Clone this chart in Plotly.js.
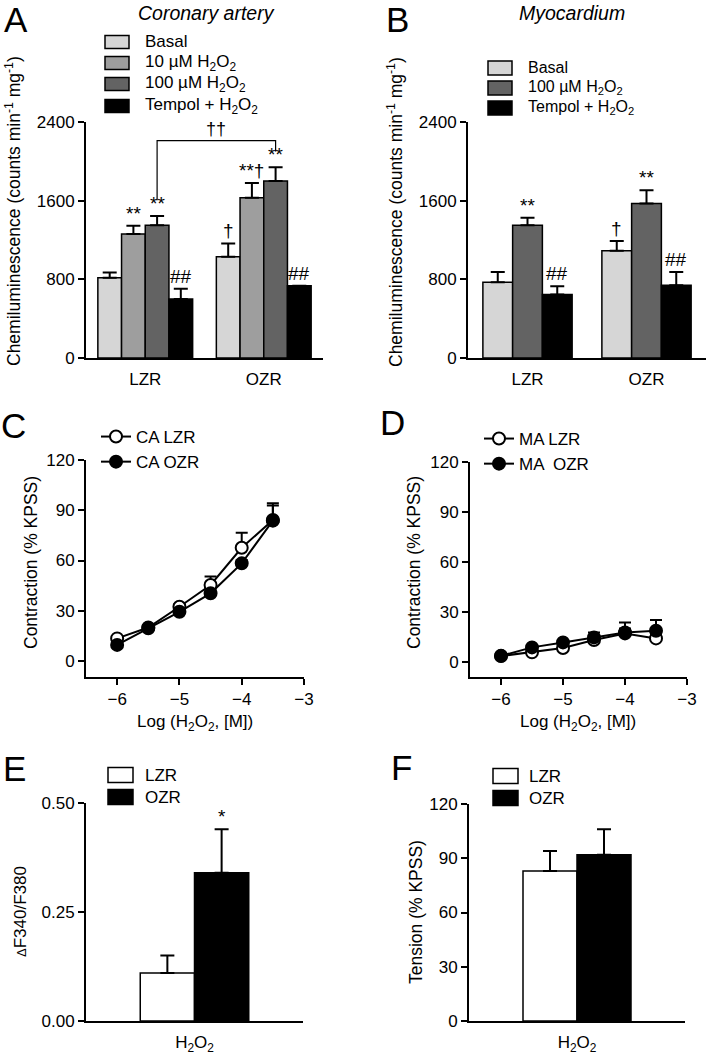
<!DOCTYPE html>
<html>
<head>
<meta charset="utf-8">
<script src="https://cdn.plot.ly/plotly-3.0.1.min.js"></script>
<style>
  body { margin: 0; background: #fff; }
  #fig { width: 709px; height: 1057px; }
</style>
</head>
<body>
<div id="fig"></div>
<script>
// panel A - coronary artery chemiluminescence
var groups = ['LZR', 'OZR'];
var namesA = ['Basal', '10 µM H<sub>2</sub>O<sub>2</sub>', '100 µM H<sub>2</sub>O<sub>2</sub>', 'Tempol + H<sub>2</sub>O<sub>2</sub>'];
var colorsA = ['#d6d6d6', '#9e9e9e', '#636363', '#000000'];
var valsA = [[815, 1030], [1260, 1630], [1350, 1800], [600, 735]];
var errA = [[55, 135], [85, 150], [95, 140], [105, 0]];
var sigA = [['', '†'], ['**', '**†'], ['**', '**'], ['##', '##']];

// panel B - myocardium
var namesB = ['Basal', '100 µM H<sub>2</sub>O<sub>2</sub>', 'Tempol + H<sub>2</sub>O<sub>2</sub>'];
var colorsB = ['#d6d6d6', '#636363', '#000000'];
var valsB = [[770, 1090], [1350, 1570], [645, 740]];
var errB = [[105, 100], [75, 135], [85, 135]];
var sigB = [['', '†'], ['**', '**'], ['##', '##']];

// panels C, D - concentration response
var logH2O2 = [-6, -5.5, -5, -4.5, -4, -3.5];
var caLZR = [13.5, 20, 32.4, 45.4, 67.6, 84.2];
var caLZRerr = [1, 1, 1.5, 5, 9, 10];
var caOZR = [9.6, 19.5, 29.4, 40.4, 58.3, 83.8];
var caOZRerr = [1, 1, 1, 2, 2, 9];
var maLZR = [3.4, 5.6, 8.2, 13, 17, 14];
var maLZRerr = [1, 1, 1, 2, 3, 2];
var maOZR = [3.5, 8.6, 11.6, 14.6, 17.6, 18.6];
var maOZRerr = [1, 1, 1, 3, 6, 6.5];

// panels E, F
var ratNames = ['LZR', 'OZR'];
var ratColors = ['#ffffff', '#000000'];
var catEF = ['H<sub>2</sub>O<sub>2</sub>'];
var valsE = [0.11, 0.34];
var errE = [0.04, 0.10];
var sigE = ['', '*'];
var valsF = [83, 92];
var errF = [11, 14];

var W = 709, H = 1057;
var FONT = 'Liberation Sans, Arial, sans-serif';
var FS = 17;
function px(x) { return x / W; }
function py(y) { return 1 - y / H; }
function dx(a, b) { return [a / W, b / W]; }
function dy(top, bot) { return [1 - bot / H, 1 - top / H]; }

var data = [];
var annotations = [];
var shapes = [];

// grouped bars via width/offset so each panel can have its own gap
function addBars(names, colors, vals, errs, sig, cats, xa, ya, frac) {
    var n = names.length, w = frac / n;
    for (var i = 0; i < n; i++) {
        var off = -frac / 2 + i * w;
        data.push({
            type: 'bar', x: cats, y: vals[i], width: w, offset: off,
            xaxis: xa, yaxis: ya, name: names[i], showlegend: false,
            marker: { color: colors[i], line: { color: '#000', width: 1.5 } },
            error_y: { type: 'data', symmetric: false, array: errs[i], arrayminus: cats.map(function () { return 0; }),
                color: '#000', thickness: 2, width: 7 }
        });
        if (!sig) continue;
        for (var j = 0; j < cats.length; j++) {
            if (!sig[i][j]) continue;
            annotations.push({
                xref: xa, yref: ya, x: j + off + w / 2, y: vals[i][j] + errs[i][j],
                text: sig[i][j], showarrow: false, yanchor: 'bottom', yshift: 0,
                font: { family: FONT, size: 19, color: '#000' }
            });
        }
    }
}

function addKeys(names, colors, x0, rows, bw, bh, textX, fs) {
    for (var i = 0; i < names.length; i++) {
        shapes.push({ type: 'rect', xref: 'paper', yref: 'paper',
            x0: px(x0), x1: px(x0 + bw), y0: py(rows[i] + bh / 2), y1: py(rows[i] - bh / 2),
            fillcolor: colors[i], line: { color: '#000', width: 1.5 } });
        annotations.push({ xref: 'paper', yref: 'paper', x: px(textX), y: py(rows[i]),
            xanchor: 'left', yanchor: 'middle', text: names[i], showarrow: false,
            font: { family: FONT, size: fs || FS, color: '#000' } });
    }
}

addBars(namesA, colorsA, valsA, errA, sigA, groups, 'x', 'y', 0.8);
addBars(namesB, colorsB, valsB, errB, sigB, groups, 'x2', 'y2', 0.75);
addBars(ratNames, ratColors, valsE.map(function (v) { return [v]; }), errE.map(function (v) { return [v]; }),
    sigE.map(function (s) { return [s]; }), catEF, 'x5', 'y5', 0.5);
addBars(ratNames, ratColors, valsF.map(function (v) { return [v]; }), errF.map(function (v) { return [v]; }),
    null, catEF, 'x6', 'y6', 0.5);

function curve(y, err, name, fill, xa, ya, leg) {
    data.push({
        type: 'scatter', mode: 'lines+markers', x: logH2O2, y: y, name: name,
        xaxis: xa, yaxis: ya, legend: leg, cliponaxis: false,
        line: { color: '#000', width: 2 },
        marker: { symbol: 'circle', size: 12, color: fill, line: { color: '#000', width: 2 } },
        error_y: { type: 'data', symmetric: false, array: err, arrayminus: err.map(function () { return 0; }),
            color: '#000', thickness: 2, width: 6 }
    });
}
curve(caLZR, caLZRerr, 'CA LZR', '#fff', 'x3', 'y3', 'legend');
curve(caOZR, caOZRerr, 'CA OZR', '#000', 'x3', 'y3', 'legend');
curve(maLZR, maLZRerr, 'MA LZR', '#fff', 'x4', 'y4', 'legend2');
curve(maOZR, maOZRerr, 'MA  OZR', '#000', 'x4', 'y4', 'legend2');

addKeys(namesA, colorsA, 105, [42, 63, 84, 106], 24, 13, 143);
addKeys(namesB, colorsB, 488, [68, 88, 108], 24, 14, 526, 16);
addKeys(ratNames, ratColors, 108, [775, 797], 25, 15, 143);
addKeys(ratNames, ratColors, 493, [776, 798], 25, 15, 527);

// bracket between 100 µM bars in A
var wA = 0.8 / 4, cL = -0.4 + 2.5 * wA, cR = 1 + cL;
var brTop = 2210, brGap = 160;
shapes.push({ type: 'path', xref: 'x', yref: 'y',
    path: 'M' + cL + ',' + (valsA[2][0] + errA[2][0] + brGap) + ' L' + cL + ',' + brTop +
        ' L' + cR + ',' + brTop + ' L' + cR + ',' + (valsA[2][1] + errA[2][1] + brGap),
    line: { color: '#000', width: 1.2 } });
annotations.push({ xref: 'x', yref: 'y', x: (cL + cR) / 2, y: brTop, yanchor: 'bottom', text: '††',
    showarrow: false, font: { family: FONT, size: 18, color: '#000' } });

function lab(x, y, text, size, angle) {
    annotations.push({ xref: 'paper', yref: 'paper', x: px(x), y: py(y), text: text, showarrow: false,
        xanchor: 'center', yanchor: 'middle', textangle: angle || 0,
        font: { family: FONT, size: size, color: '#000' } });
}
lab(16, 19, 'A', 35);
lab(397, 19, 'B', 35);
lab(13, 425, 'C', 35);
lab(392, 423, 'D', 35);
lab(15, 768, 'E', 35);
lab(401, 767, 'F', 35);
lab(206, 13, '<i>Coronary artery</i>', 19.5);
lab(572, 13, '<i>Myocardium</i>', 19.5);
lab(13, 211, 'Chemiluminescence (counts min<sup>-1</sup> mg<sup>-1</sup>)', 17.5, -90);
lab(395, 212, 'Chemiluminescence (counts min<sup>-1</sup> mg<sup>-1</sup>)', 17.5, -90);
lab(31, 563, 'Contraction (% KPSS)', 17.5, -90);
lab(414, 563, 'Contraction (% KPSS)', 17.5, -90);
lab(20, 912, '<span style="font-size:13px">Δ</span>F340/F380', 17, -90);
lab(416, 912, 'Tension (% KPSS)', 17.5, -90);
lab(195, 723, 'Log (H<sub>2</sub>O<sub>2</sub>, [M])', FS);
lab(578, 723, 'Log (H<sub>2</sub>O<sub>2</sub>, [M])', FS);

function yax(dom, range, vals, txt) {
    return { domain: dom, range: range, tickvals: vals, ticktext: txt, ticks: 'outside', ticklen: 6, tickwidth: 2,
        tickcolor: '#000', showline: true, linewidth: 2, linecolor: '#000', showgrid: false, zeroline: false,
        fixedrange: true, tickfont: { family: FONT, size: FS, color: '#000' } };
}
function xcat(dom) {
    return { domain: dom, type: 'category', range: [-0.5, groups.length - 0.5], ticks: '', showline: true,
        linewidth: 2, linecolor: '#000', showgrid: false, zeroline: false, ticklabelstandoff: 5,
        tickfont: { family: FONT, size: FS, color: '#000' } };
}
function xlog(dom) {
    return { domain: dom, range: [-6.5, -3], tickvals: [-6, -5, -4, -3], ticks: 'outside', ticklen: 6, tickwidth: 2,
        tickcolor: '#000', showline: true, linewidth: 2, linecolor: '#000', showgrid: false, zeroline: false,
        tickfont: { family: FONT, size: FS, color: '#000' } };
}

var xE = xcat(dx(86, 303)); xE.range = [-0.5, 0.5];
var xF = xcat(dx(469, 685)); xF.range = [-0.5, 0.5];

var layout = {
    width: W, height: H,
    margin: { l: 0, r: 0, t: 0, b: 0 },
    paper_bgcolor: '#fff', plot_bgcolor: 'rgba(0,0,0,0)',
    font: { family: FONT, size: FS, color: '#000' },
    xaxis: Object.assign(xcat(dx(86, 323)), { anchor: 'y' }),
    yaxis: Object.assign(yax(dy(122, 358), [0, 2400], [0, 800, 1600, 2400]), { anchor: 'x' }),
    xaxis2: Object.assign(xcat(dx(468, 706)), { anchor: 'y2' }),
    yaxis2: Object.assign(yax(dy(122, 358), [0, 2400], [0, 800, 1600, 2400]), { anchor: 'x2' }),
    xaxis3: Object.assign(xlog(dx(86, 304)), { anchor: 'y3' }),
    yaxis3: Object.assign(yax(dy(460, 677), [-9.55, 120], [0, 30, 60, 90, 120]), { anchor: 'x3' }),
    xaxis4: Object.assign(xlog(dx(470, 687)), { anchor: 'y4' }),
    yaxis4: Object.assign(yax(dy(462, 677), [-9.2, 120], [0, 30, 60, 90, 120]), { anchor: 'x4' }),
    xaxis5: Object.assign(xE, { anchor: 'y5' }),
    yaxis5: Object.assign(yax(dy(803, 1021), [0, 0.5], [0, 0.25, 0.5], ['0.00', '0.25', '0.50']), { anchor: 'x5' }),
    xaxis6: Object.assign(xF, { anchor: 'y6' }),
    yaxis6: Object.assign(yax(dy(804, 1021), [0, 120], [0, 30, 60, 90, 120]), { anchor: 'x6' }),
    legend: { x: px(96), y: py(419), xanchor: 'left', yanchor: 'top', bgcolor: 'rgba(0,0,0,0)',
        itemwidth: 30, tracegroupgap: 0, font: { family: FONT, size: FS, color: '#000' } },
    legend2: { x: px(479), y: py(421), xanchor: 'left', yanchor: 'top', bgcolor: 'rgba(0,0,0,0)',
        itemwidth: 30, tracegroupgap: 0, font: { family: FONT, size: FS, color: '#000' } },
    showlegend: true,
    annotations: annotations,
    shapes: shapes
};

Plotly.newPlot('fig', data, layout, { staticPlot: true });
</script>
</body>
</html>
